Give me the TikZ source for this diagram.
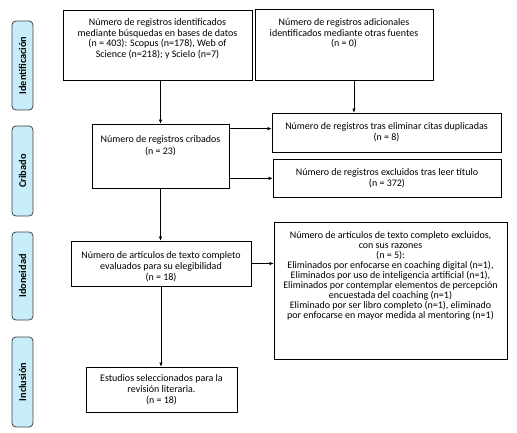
\documentclass[tikz,border=0pt]{standalone}
\usepackage{fontspec}
\setmainfont{Carlito}
\usetikzlibrary{arrows.meta}
\newcommand{\bxc}[4]{\parbox[c][#2pt][t]{#1pt}{\centering\vspace*{#3pt}#4\par}}
\begin{document}
\begin{tikzpicture}[x=1pt,y=-1pt,
  box/.style={draw=black,line width=0.7pt,inner sep=0pt,font=\fontsize{10}{10.6}\selectfont},
  side/.style={draw=black!75,fill=cyan!22!white,rounded corners=4pt,line width=0.8pt,minimum width=21pt,inner sep=0pt},
  sidetxt/.style={rotate=90,font=\fontsize{10.3}{11}\selectfont\bfseries},
  arr/.style={-{Latex[length=4pt,width=3.5pt]},line width=0.6pt}]
\useasboundingbox (0,0) rectangle (517,433);
% side labels
\node[side,minimum height=89pt] (s1) at (22.5,65.5) {};
\node[sidetxt] (s1t) at (s1.center) {Identificación};
\node[side,minimum height=90pt] (s2) at (22.5,171) {};
\node[sidetxt] (s2t) at (s2.center) {Cribado};
\node[side,minimum height=88pt] (s3) at (22.5,276) {};
\node[sidetxt] (s3t) at (s3.center) {Idoneidad};
\node[side,minimum height=90pt] (s4) at (22.5,382) {};
\node[sidetxt] (s4t) at (s4.center) {Inclusión};
% boxes
\node[box] (b1) at (157.5,45) {\bxc{189}{70}{8.5}{Número de registros identificados\\ mediante búsquedas en bases de datos\\ (n = 403): Scopus (n=178), Web of\\ Science (n=218); y Scielo (n=7)}};
\node[box] (b2) at (344,44.5) {\bxc{178}{71}{9.5}{Número de registros adicionales\\ identificados mediante otras fuentes\\ (n = 0)}};
\node[box] (crib) at (160.5,156) {\bxc{137}{64}{11.5}{Número de registros cribados\\[1.5pt] (n = 23)}};
\node[box] (dup) at (386.5,132.5) {\bxc{229}{39}{10}{Número de registros tras eliminar citas duplicadas\\ (n = 8)}};
\node[box] (tit) at (387,178) {\bxc{228}{38}{10}{Número de registros excluidos tras leer título\\ (n = 372)}};
\node[box] (idon) at (161,263.5) {\bxc{180}{45}{11}{Número de artículos de texto completo\\ evaluados para su elegibilidad\\ (n = 18)}};
\node[box] (excl) at (390.5,290.5) {\bxc{233}{137}{9.5}{\baselineskip=10pt Número de artículos de texto completo excluidos,\\ con sus razones\\ (n = 5):\\ Eliminados por enfocarse en coaching digital (n=1),\\ Eliminados por uso de inteligencia artificial (n=1),\\ Eliminados por contemplar elementos de percepción\\ encuestada del coaching (n=1)\\ Eliminado por ser libro completo (n=1), eliminado\\ por enfocarse en mayor medida al mentoring (n=1)}};
\node[box] (incl) at (161.5,389.5) {\bxc{151}{45}{8}{Estudios seleccionados para la\\ revisión literaria.\\ (n = 18)}};
% connectors
\coordinate (b2out) at ([xshift=10pt]b2.south);
\draw[arr] (b1.south -| crib.north) -- (crib.north);
\draw[arr] (b2out) -- (b2out |- dup.north);
\draw[arr] ([yshift=-5pt]crib.north east) -- ([yshift=-5pt]crib.north east -| dup.west);
\draw[arr] ([yshift=10pt]crib.south east) -- ([yshift=10pt]crib.south east -| tit.west);
\draw[arr] (crib.south) -- (crib.south |- idon.north);
\draw[arr] (idon.east) -- (idon.east -| excl.west);
\draw[arr] (idon.south) -- (idon.south |- incl.north);
\end{tikzpicture}
\end{document}
